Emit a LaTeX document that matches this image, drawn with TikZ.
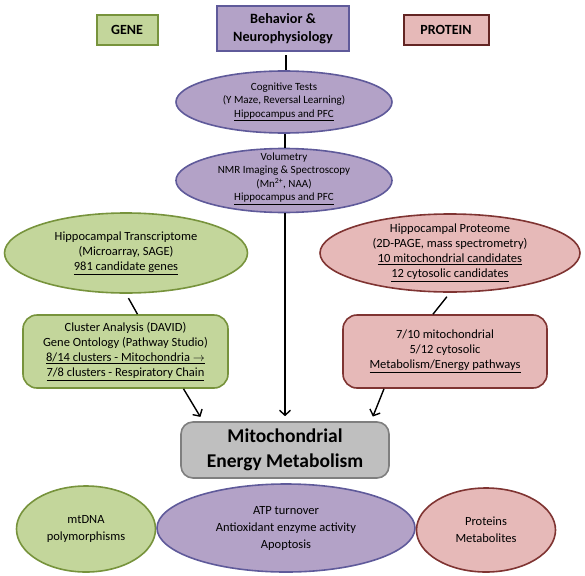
\documentclass[tikz,border=0pt]{standalone}
\usepackage{fontspec}
\setmainfont{Carlito}
\usetikzlibrary{shapes.geometric,arrows.meta}
\definecolor{gfill}{HTML}{C3D69B}
\definecolor{gdraw}{HTML}{77933C}
\definecolor{pfill}{HTML}{B3A2C7}
\definecolor{pdraw}{HTML}{5F5A9A}
\definecolor{rfill}{HTML}{E6B9B8}
\definecolor{rdraw}{HTML}{7F3432}
\definecolor{rdark}{HTML}{632523}
\definecolor{kfill}{HTML}{BFBFBF}
\definecolor{kdraw}{HTML}{7F7F7F}
\tikzset{
  lbl/.style={draw,line width=2pt,inner sep=0pt,font=\fontsize{14}{16}\selectfont\bfseries},
  ell/.style={ellipse,draw,line width=1.6pt,inner sep=0pt},
  rbox/.style={rectangle,rounded corners=14pt,draw,line width=1.6pt,inner sep=0pt},
  small/.style={align=center,inner sep=0pt,font=\fontsize{11}{13.5}\selectfont},
  mid/.style={align=center,inner sep=0pt,font=\fontsize{12.5}{15}\selectfont},
  low/.style={align=center,inner sep=0pt,font=\fontsize{12.5}{17}\selectfont},
  conn/.style={line width=1.4pt,black},
  arr/.style={conn,-{Straight Barb[length=5pt,width=11pt,line width=1.4pt]},shorten >=5pt}
}
\begin{document}
\begin{tikzpicture}[x=1pt,y=-1pt]
\useasboundingbox (0,0) rectangle (585,575);
% top labels
\node[lbl,draw=gdraw,fill=gfill,minimum width=61pt,minimum height=30pt] (gene) at (127,30) {GENE};
\node[lbl,draw=pdraw,fill=pfill,minimum width=132pt,minimum height=45pt,align=center,font=\fontsize{14.2}{18}\selectfont\bfseries] (beh) at (283,29) {Behavior \&\\Neurophysiology};
\node[lbl,draw=rdark,fill=rfill,minimum width=85pt,minimum height=30pt] (prot) at (446,30) {PROTEIN};
% purple ellipses
\node[ell,draw=pdraw,fill=pfill,minimum width=216pt,minimum height=62pt] (cog) at (284,102) {};
\node[small] (cogt) at (cog.center) {Cognitive Tests\\(Y Maze, Reversal Learning)\\\underline{Hippocampus and PFC}};
\node[ell,draw=pdraw,fill=pfill,minimum width=216pt,minimum height=64pt] (vol) at (284,180.5) {};
\node[small] (volt) at ([yshift=2pt]vol.center) {Volumetry\\NMR Imaging \& Spectroscopy\\(Mn\smash{\textsuperscript{2+}}, NAA)\\\underline{Hippocampus and PFC}};
% gene side
\node[ell,draw=gdraw,fill=gfill,minimum width=243pt,minimum height=80pt] (trans) at (126,253) {};
\node[mid] (transt) at (trans.center) {Hippocampal Transcriptome\\(Microarray, SAGE)\\\underline{981 candidate genes}};
\node[rbox,draw=gdraw,fill=gfill,minimum width=205pt,minimum height=73pt] (clus) at (125.5,351.5) {};
\node[mid] (clust) at (clus.center) {Cluster Analysis (DAVID)\\Gene Ontology (Pathway Studio)\\\underline{8/14 clusters - Mitochondria $\rightarrow$}\\\underline{7/8 clusters - Respiratory Chain}};
% protein side
\node[ell,draw=rdraw,fill=rfill,minimum width=260pt,minimum height=78pt] (prote) at (450,253) {};
\node[mid] (protet) at (prote.center) {Hippocampal Proteome\\(2D-PAGE, mass spectrometry)\\\underline{10 mitochondrial candidates}\\\underline{12 cytosolic candidates}};
\node[rbox,draw=rdraw,fill=rfill,minimum width=204pt,minimum height=73pt] (pbox) at (445,351.5) {};
\node[mid] (pboxt) at (pbox.center) {7/10 mitochondrial\\5/12 cytosolic\\\underline{Metabolism/Energy pathways}};
% center
\node[rbox,rounded corners=12pt,draw=kdraw,fill=kfill,minimum width=208pt,minimum height=56pt,align=center,font=\fontsize{19.5}{25}\selectfont\bfseries] (mito) at (285,450) {Mitochondrial\\Energy Metabolism};
% bottom
\node[ell,draw=gdraw,fill=gfill,minimum width=139pt,minimum height=86pt] (mtdna) at (86,529) {};
\node[low] (mtdnat) at (mtdna.center) {mtDNA\\polymorphisms};
\node[ell,draw=pdraw,fill=pfill,minimum width=258pt,minimum height=88pt] (atp) at (286,528) {};
\node[low] (atpt) at (atp.center) {ATP turnover\\Antioxidant enzyme activity\\Apoptosis};
\node[ell,draw=rdraw,fill=rfill,minimum width=139pt,minimum height=84pt] (prots) at (486,530) {};
\node[low] (protst) at (prots.center) {Proteins\\Metabolites};
% connectors
\draw[conn,shorten <=3pt] ([xshift=3pt]beh.south) -- ([xshift=2pt]cog.north);
\draw[conn] ([xshift=1pt]cog.south) -- ([xshift=1pt]vol.north);
\draw[arr] ([xshift=1pt]vol.south) -- ([xshift=0pt]mito.north);
\draw[conn,shorten <=5pt] (trans.south) -- ([xshift=12pt]clus.north);
\draw[arr] ([xshift=58pt]clus.south) -- ([xshift=-82pt]mito.north);
\draw[conn,shorten <=5pt] (prote.south) -- ([xshift=-12pt]pbox.north);
\draw[arr] ([xshift=-61pt]pbox.south) -- ([xshift=86pt]mito.north);
\end{tikzpicture}
\end{document}
